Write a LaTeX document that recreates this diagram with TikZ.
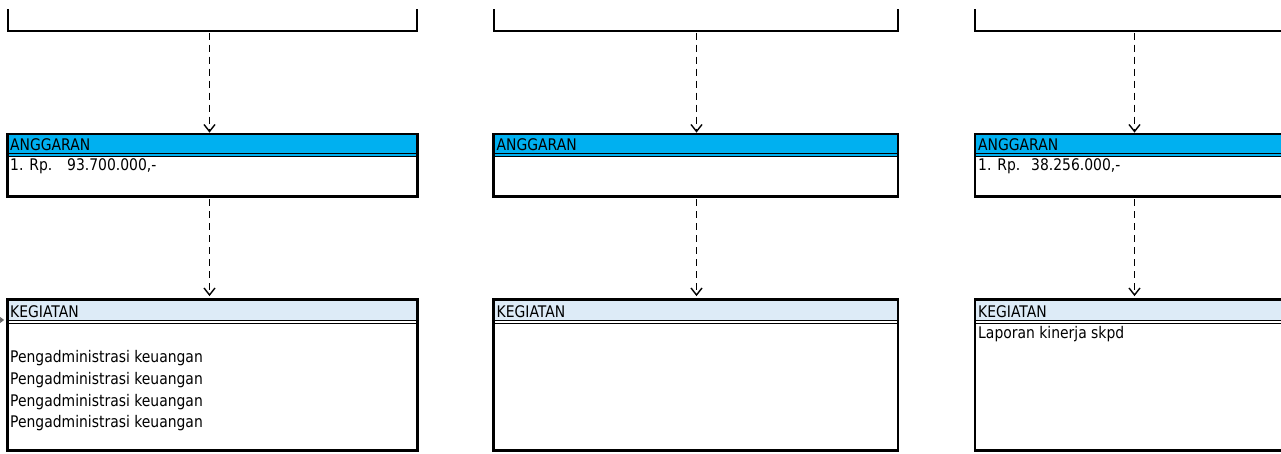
\documentclass[tikz,border=0pt]{standalone}
\usepackage{fontspec}
\setmainfont{DejaVu Sans}[FakeStretch=0.87]
\usetikzlibrary{arrows.meta,fit}
\definecolor{hdrblue}{HTML}{00B0F0}
\definecolor{hdrlight}{HTML}{DDEBF7}
\tikzset{
  box/.style={draw, line width=2.8pt, inner sep=0pt},
  seprule/.style={line width=1.4pt},
  toprule/.style={line width=2.8pt},
  flow/.style={line width=1.6pt, dash pattern=on 7pt off 5pt, -{Straight Barb[length=7pt,width=11pt,line width=1.4pt]}},
  lbl/.style={anchor=base west, inner sep=0pt, font=\fontsize{16}{19}\selectfont},
}
% #1 name, #2 left, #3 right, #4 top, #5 bottom, #6 first rule, #7 header colour, #8 gap colour
\newcommand\mypanel[8]{%
  \fill[#7] (#2,#4) rectangle (#3,#6);
  \fill[#8] (#2,#6) rectangle (#3,#6+3);
  \draw[seprule] (#2,#6) -- (#3,#6);
  \draw[seprule] (#2,#6+3) -- (#3,#6+3);
  \path (#2,#4) coordinate (#1nw) (#3,#5) coordinate (#1se);
  \node[box, fit=(#1nw)(#1se)] (#1) {};
}
\begin{document}
\begin{tikzpicture}[x=1pt,y=-1pt]
\useasboundingbox (0,0) rectangle (1281,453);
\clip (0,0) rectangle (1281,453);
% top (cut) boxes
\draw[toprule] (8,9) -- (8,31) -- (417,31) -- (417,9);
\draw[toprule] (494,9) -- (494,31) -- (898,31) -- (898,9);
\draw[toprule] (975,9) -- (975,31) -- (1400,31);
\coordinate (top1) at (209.5,32.5);
\coordinate (top2) at (696.5,32.5);
\coordinate (top3) at (1134.5,32.5);
% ANGGARAN panels
\mypanel{ang1}{7.5}{417.5}{134}{196.5}{153.2}{hdrblue}{hdrblue}
\mypanel{ang2}{493.7}{898}{134}{196.5}{153.2}{hdrblue}{hdrblue}
\mypanel{ang3}{975}{1400}{134}{196.5}{153.2}{hdrblue}{hdrblue}
% KEGIATAN panels
\mypanel{keg1}{7.5}{417.5}{299.5}{450.7}{320.2}{hdrlight}{white}
\mypanel{keg2}{493.7}{898}{299.5}{450.7}{320.2}{hdrlight}{white}
\mypanel{keg3}{975}{1400}{299.5}{450.7}{320.2}{hdrlight}{white}
% connectors
\draw[flow] (top1) -- (top1 |- ang1.north);
\draw[flow] (top2) -- (top2 |- ang2.north);
\draw[flow] (top3) -- (top3 |- ang3.north);
\draw[flow] (top1 |- ang1.south) ++(0,1.5) -- ([yshift=2pt]top1 |- keg1.north);
\draw[flow] (top2 |- ang2.south) ++(0,1.5) -- ([yshift=2pt]top2 |- keg2.north);
\draw[flow] (top3 |- ang3.south) ++(0,1.5) -- ([yshift=2pt]top3 |- keg3.north);
\coordinate (lstub) at (-20,320);
\draw[black!60, line width=1.2pt, -{Straight Barb[length=4pt,width=6pt]}] (lstub) -- ([xshift=-2pt]keg1.west |- lstub);
% texts
\node[lbl] (a1t) at (10,150) {ANGGARAN};
\node[lbl] (a2t) at (496.5,150) {ANGGARAN};
\node[lbl] (a3t) at (978,150) {ANGGARAN};
\node[lbl] (a1v) at (10,170) {\makebox[57pt][l]{1. Rp.}93.700.000,-};
\node[lbl] (a3v) at (978,170) {\makebox[53pt][l]{1. Rp.}38.256.000,-};
\node[lbl] (k1t) at (10,317) {KEGIATAN};
\node[lbl] (k2t) at (496.5,317) {KEGIATAN};
\node[lbl] (k3t) at (978,317) {KEGIATAN};
\node[lbl] (k1a) at (10,362.5) {Pengadministrasi keuangan};
\node[lbl] (k1b) at (10,384.3) {Pengadministrasi keuangan};
\node[lbl] (k1c) at (10,406.1) {Pengadministrasi keuangan};
\node[lbl] (k1d) at (10,427.9) {Pengadministrasi keuangan};
\node[lbl] (k3a) at (978,338.5) {Laporan kinerja skpd};
\end{tikzpicture}
\end{document}
